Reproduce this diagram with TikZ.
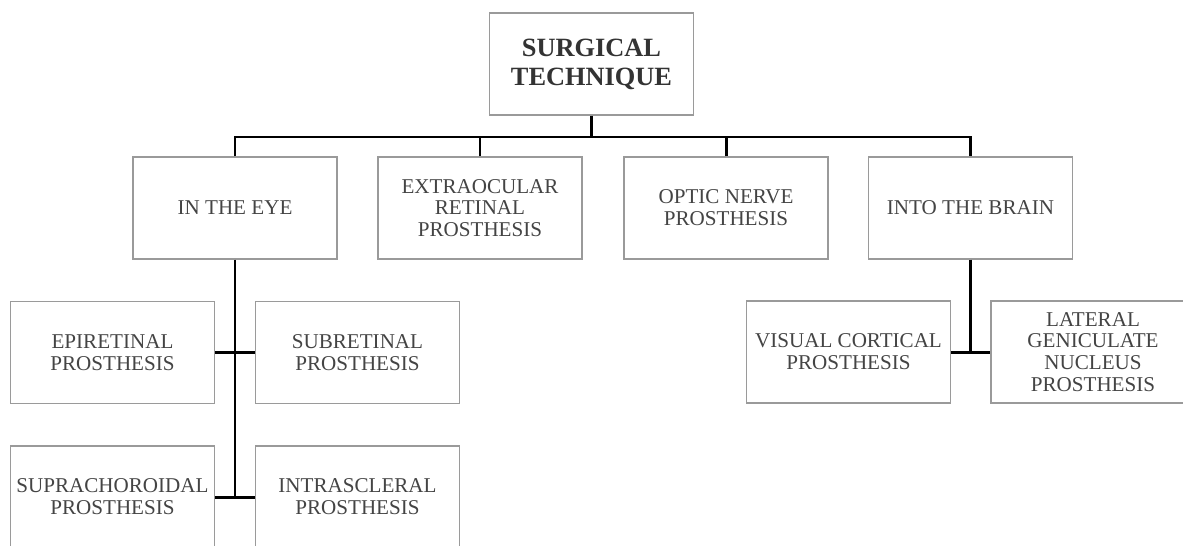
\documentclass[tikz,border=0pt]{standalone}
\usepackage{fontspec}
\setmainfont{Liberation Serif}
\definecolor{boxline}{HTML}{9A9A9A}
\definecolor{boxtext}{HTML}{444444}
\tikzset{
  box/.style={draw=boxline,line width=.8pt,fill=white,align=center,
    minimum width=4.08cm,minimum height=2.04cm,inner sep=0pt,
    text=boxtext,font=\fontsize{12}{12.4}\selectfont},
  headbox/.style={box,text=black!80,font=\fontsize{15}{16.5}\selectfont\bfseries},
  conn/.style={line width=1.7pt,black}
}
\begin{document}
\begin{tikzpicture}[x=.02cm,y=-.02cm]
      \useasboundingbox[fill=white] (0,0) rectangle (1183,545);
      \node[headbox] (title) at (591.5,64) {SURGICAL\\TECHNIQUE};
      \coordinate (bus) at (591.5,137);
      \node[box] (eye)   at (235,208)   {IN THE EYE};
      \node[box] (extra) at (480,208)   {EXTRAOCULAR\\RETINAL\\PROSTHESIS};
      \node[box] (optic) at (726,208)   {OPTIC NERVE\\PROSTHESIS};
      \node[box] (brain) at (970.5,208) {INTO THE BRAIN};
      \node[box] (epi)   at (112.5,352.5) {EPIRETINAL\\PROSTHESIS};
      \node[box] (sub)   at (357.5,352.5) {SUBRETINAL\\PROSTHESIS};
      \node[box] (supra) at (112.5,497)   {SUPRACHOROIDAL\\PROSTHESIS};
      \node[box] (intra) at (357.5,497)   {INTRASCLERAL\\PROSTHESIS};
      \node[box] (cortical) at (848.5,352) {VISUAL CORTICAL\\PROSTHESIS};
      \node[box] (lgn)      at (1093,352)  {LATERAL\\GENICULATE\\NUCLEUS\\PROSTHESIS};
      % top level
      \draw[conn] (title.south) -- (bus);
      \draw[conn] (eye.north) -- (eye.north |- bus) -- (brain.north |- bus) -- (brain.north);
      \foreach \n in {extra,optic}
        \draw[conn] (\n.north) -- (\n.north |- bus);
      % in the eye
      \draw[conn] (eye.south) -- (eye.south |- supra.east);
      \draw[conn] (epi.east) -- (sub.west);
      \draw[conn] (supra.east) -- (intra.west);
      % into the brain
      \draw[conn] (brain.south) -- (brain.south |- cortical.east);
      \draw[conn] (cortical.east) -- (lgn.west);
    \end{tikzpicture}
\end{document}
